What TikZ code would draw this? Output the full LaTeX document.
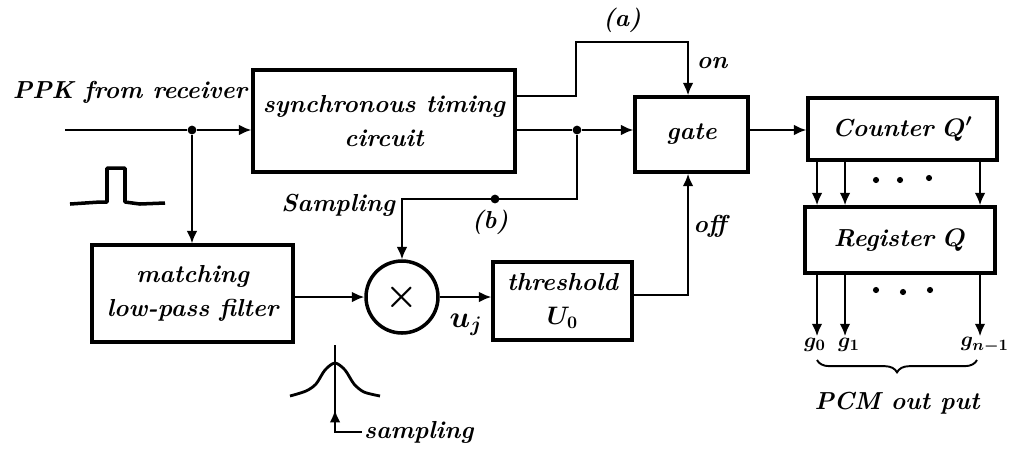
\documentclass[tikz,border=0pt]{standalone}
\usetikzlibrary{arrows.meta,decorations.pathreplacing}
\begin{document}
\begin{tikzpicture}[x=0.02cm,y=-0.02cm,
  box/.style={draw,line width=2pt,inner sep=0pt,font=\fontsize{14}{19}\selectfont\bfseries\itshape\boldmath,align=center},
  wire/.style={line width=1.1pt},
  arr/.style={wire,-{Latex[length=7pt,width=6pt]}},
  lbl/.style={font=\fontsize{14}{17}\selectfont\bfseries\itshape\boldmath,inner sep=1pt},
  glbl/.style={font=\fontsize{13}{13}\selectfont\boldmath,inner sep=1pt},
  jdot/.style={circle,fill,inner sep=0pt,minimum size=5pt},
  sdot/.style={circle,fill,inner sep=0pt,minimum size=3.5pt}]
\useasboundingbox (0,0) rectangle (1016,451);

% blocks
\node[box,minimum width=5.24cm,minimum height=2.04cm] (sync) at (384,121) {synchronous timing\\circuit};
\node[box,minimum width=2.26cm,minimum height=1.5cm] (gate) at (691.5,134.5) {gate};
\node[box,minimum width=3.78cm,minimum height=1.24cm] (counter) at (902.5,129) {Counter $Q'$};
\node[box,minimum width=3.8cm,minimum height=1.32cm] (register) at (900,240) {Register $Q$};
\node[box,minimum width=4.02cm,minimum height=1.94cm] (filter) at (192.5,293.5) {matching\\low-pass filter};
\node[box,minimum width=2.78cm,minimum height=1.56cm] (thr) at (562.5,301) {threshold\\$U_0$};
\node[draw,circle,line width=2pt,minimum size=1.44cm,inner sep=0pt,font=\fontsize{20}{20}\selectfont\boldmath] (mult) at (402,297) {$\times$};

% labels
\node[lbl] (ppk) at (130,92) {PPK from receiver};
\node[lbl] (la) at (622,20) {(a)};
\node[lbl] (lon) at (712,63) {on};
\node[lbl] (loff) at (710,226) {off};
\node[lbl,anchor=east] (lsamp) at (397,205) {Sampling};
\node[lbl] (lb) at (490,222) {(b)};
\node[lbl,font=\fontsize{17}{17}\selectfont\boldmath] (luj) at (466,325) {$u_j$};
\node[lbl,anchor=west] (lsamp2) at (362,432) {sampling};
\node[lbl] (pcm) at (897,403) {PCM out put};
\node[glbl] (g0) at (815,345) {$g_0$};
\node[glbl] (g1) at (849,345) {$g_1$};
\node[glbl,anchor=east] (gn) at (1011,345) {$g_{n{-}1}$};

% input
\coordinate (in) at (65,130);
\node[jdot] (j1) at (192,130) {};
\draw[wire] (in) -- (j1);
\draw[arr] (j1) -- (j1 -| sync.west);
\draw[arr] (j1) -- (j1 |- filter.north);

% sync outputs
\coordinate (ya) at (0,96);
\coordinate (a1) at (576,42);
\coordinate (a2) at (688,42);
\draw[arr] (sync.east |- ya) -| (a1) -- (a2) -- (a2 |- gate.north);
\node[jdot] (j2) at (577,130) {};
\draw[wire] (sync.east |- j2) -- (j2);
\draw[arr] (j2) -- (j2 -| gate.west);
\coordinate (c1) at (577,199);
\coordinate (c2) at (402,199);
\draw[arr] (j2) -- (c1) -- (c2) -- (mult.north);
\node[jdot] (jb) at (495,199) {};

% main chain
\draw[arr] (filter.east |- mult) -- (mult.west);
\draw[arr] (mult.east) -- (mult.east -| thr.west);
\coordinate (o1) at (688,295);
\draw[arr] (thr.east |- o1) -- (o1) -- (o1 |- gate.south);
\draw[arr] (gate.east |- j2) -- (counter.west |- j2);

% counter -> register -> outputs
\coordinate (k1) at (817,0);
\coordinate (k2) at (845,0);
\coordinate (k3) at (980,0);
\foreach \k in {k1,k2,k3}{
  \draw[arr] (counter.south -| \k) -- (register.north -| \k);
  \draw[arr] (register.south -| \k) -- (\k |- g0.north);
}
\node[sdot] (d1) at (876,180) {};
\node[sdot] (d2) at (900,180) {};
\node[sdot] (d3) at (929,178) {};
\node[sdot] (d4) at (876,290) {};
\node[sdot] (d5) at (903,292) {};
\node[sdot] (d6) at (930,290) {};

% brace
\draw[wire,decorate,decoration={brace,mirror,amplitude=7pt}] (817,360) -- (977,360);

% pulse waveform
\draw[line width=2pt,line join=round] (70,204) -- (100,202) -- (107,202) -- (107,168) -- (125,168) -- (125,202) -- (140,204) -- (165,203);

% gaussian waveform
\draw[line width=1.6pt] plot[smooth] coordinates {(290,396) (306,391) (316,384) (325,370) (335,363) (345,370) (354,384) (364,392) (380,396)};
\draw[wire] (335,345) -- (335,432) -- (lsamp2.west);
\draw[-{Latex[length=7pt,width=6pt]},line width=1.1pt] (335,428) -- (335,410);
\end{tikzpicture}
\end{document}
